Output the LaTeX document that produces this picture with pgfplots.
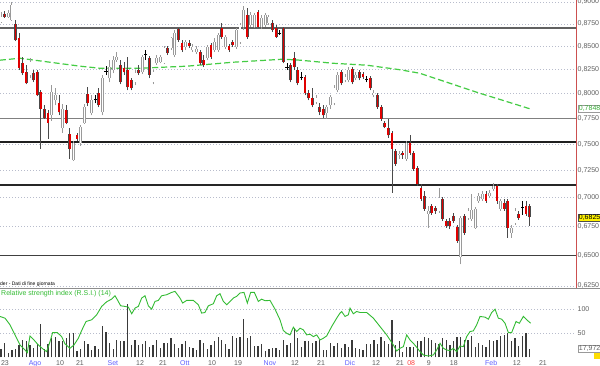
\documentclass[border=0pt]{standalone}
\usepackage{fontspec}
\setmainfont{Liberation Sans}
\usepackage{pgfplots}
\usepackage{pgfplotstable}
\pgfplotsset{compat=1.18}
\definecolor{upline}{HTML}{9A9A9A}
\definecolor{dnline}{HTML}{4A4A4A}
\definecolor{dnfill}{HTML}{E00000}
\definecolor{gridc}{HTML}{B8BCCC}
\definecolor{magreen}{HTML}{44CC44}
\definecolor{rsigreen}{HTML}{33BB33}
\definecolor{monthblue}{HTML}{6060FF}
\definecolor{yearred}{HTML}{FF4040}
\definecolor{lbl}{HTML}{606060}
\definecolor{volc}{HTML}{3A3A3A}
\definecolor{redborder}{HTML}{CC5050}

\pgfplotstableread{
x o h l c
0 .8771 .8885 .8760 .8828
2 .8828 .8908 .8817 .8874
3 .8794 .9000 .8783 .8965
8 .8192 .8373 .8160 .8330
14 .7781 .8087 .7730 .8014
15 .7932 .8056 .7881 .7984
17 .7651 .7891 .7612 .7851
20 .7352 .7534 .7342 .7505
22 .7505 .7681 .7485 .7661
23 .7710 .7891 .7700 .7861
25 .7801 .7984 .7781 .7932
28 .7811 .8192 .7781 .8160
30 .8160 .8352 .8118 .8277
31 .8245 .8395 .8213 .8352
32 .8352 .8438 .8330 .8384
37 .8118 .8245 .8087 .8213
39 .8224 .8406 .8203 .8384
42 .8118 .8245 .8097 .8224
43 .8319 .8406 .8298 .8373
44 .8330 .8406 .8319 .8384
45 .8319 .8504 .8309 .8482
47 .8482 .8603 .8460 .8592
48 .8406 .8681 .8384 .8648
51 .8493 .8570 .8460 .8548
53 .8460 .8526 .8438 .8493
54 .8438 .8504 .8417 .8471
57 .8373 .8515 .8352 .8493
59 .8460 .8592 .8438 .8548
60 .8460 .8648 .8438 .8626
62 .8493 .8626 .8471 .8603
65 .8493 .8704 .8471 .8681
66 .8548 .8760 .8526 .8737
67 .8715 .8954 .8681 .8908
69 .8737 .8885 .8715 .8851
70 .8715 .8874 .8704 .8851
72 .8715 .8851 .8692 .8817
73 .8737 .8874 .8715 .8851
74 .8760 .8851 .8737 .8828
87 .7912 .7984 .7891 .7953
90 .7801 .7881 .7750 .7861
91 .7881 .7984 .7851 .7963
92 .7902 .8087 .7881 .8056
93 .8035 .8224 .8014 .8192
95 .8139 .8203 .8118 .8171
96 .8139 .8277 .8118 .8245
98 .8160 .8224 .8139 .8192
103 .7984 .8035 .7963 .8004
110 .7390 .7437 .7361 .7409
112 .7361 .7534 .7342 .7514
118 .6858 .6929 .6735 .6884
121 .6884 .7091 .6867 .7000
127 .6488 .6840 .6425 .6822
129 .6822 .6911 .6805 .6884
130 .6814 .7037 .6796 .6893
131 .6735 .6920 .6727 .6902
132 .6973 .7046 .6955 .7019
133 .6991 .7064 .6973 .7037
135 .7019 .7073 .7000 .7046
136 .7082 .7137 .7064 .7110
138 .6902 .6991 .6884 .6973
141 .6692 .6761 .6649 .6735
142 .6779 .6911 .6761 .6884
}\updata

\pgfplotstableread{
x o h l c
1 .8862 .8896 .8817 .8828
4 .8749 .8794 .8559 .8570
5 .8592 .8648 .8245 .8266
6 .8319 .8384 .8192 .8213
7 .8224 .8298 .8097 .8108
9 .8213 .8245 .8118 .8139
10 .8224 .8245 .7974 .7984
11 .8014 .8035 .7456 .7851
12 .7841 .7881 .7750 .7760
13 .7801 .7831 .7553 .7710
16 .7902 .7984 .7781 .7811
18 .7831 .7881 .7691 .7710
19 .7602 .7651 .7361 .7456
21 .7583 .7612 .7534 .7553
24 .7994 .8066 .7871 .7902
27 .8004 .8056 .7861 .7881
33 .8298 .8352 .8097 .8118
34 .8266 .8330 .8192 .8224
35 .8245 .8384 .8035 .8066
36 .8139 .8160 .8035 .8056
38 .8245 .8298 .8192 .8213
41 .8373 .8395 .8160 .8192
46 .8482 .8504 .8406 .8427
49 .8692 .8704 .8548 .8570
50 .8537 .8570 .8438 .8460
52 .8537 .8570 .8482 .8504
55 .8438 .8460 .8298 .8319
56 .8352 .8406 .8277 .8298
58 .8515 .8537 .8363 .8384
61 .8704 .8760 .8581 .8603
63 .8504 .8526 .8438 .8460
64 .8548 .8570 .8493 .8515
68 .8851 .8931 .8581 .8603
71 .8885 .8908 .8704 .8715
75 .8760 .8794 .8659 .8681
76 .8704 .8737 .8592 .8603
78 .8704 .8715 .8319 .8330
80 .8298 .8319 .8118 .8139
81 .8373 .8438 .8245 .8277
82 .8245 .8277 .8087 .8108
84 .8171 .8192 .7984 .8004
85 .8004 .8035 .7932 .7953
86 .7953 .8056 .7861 .7881
88 .7861 .7902 .7781 .7811
89 .7851 .7881 .7760 .7781
94 .8224 .8245 .8087 .8108
97 .8256 .8277 .8097 .8118
99 .8224 .8245 .8139 .8160
100 .8203 .8224 .8150 .8171
102 .8160 .8181 .8035 .8056
104 .7984 .8004 .7851 .7861
105 .7861 .7881 .7730 .7750
106 .7710 .7730 .7651 .7661
107 .7651 .7750 .7563 .7583
108 .7612 .7631 .7046 .7456
109 .7437 .7456 .7295 .7314
111 .7418 .7437 .7361 .7390
113 .7505 .7583 .7399 .7418
114 .7418 .7437 .7248 .7267
115 .7276 .7295 .7110 .7128
116 .7091 .7128 .6973 .6991
117 .7019 .7064 .6884 .6902
119 .6929 .6947 .6849 .6867
120 .6911 .6929 .6858 .6884
122 .6991 .7009 .6796 .6814
123 .6796 .6814 .6735 .6752
124 .6796 .6822 .6727 .6752
125 .6840 .6867 .6779 .6796
126 .6744 .6761 .6606 .6623
128 .6840 .6858 .6675 .6692
134 .7037 .7064 .6955 .6973
137 .7110 .7128 .6947 .6973
139 .6955 .6991 .6884 .6902
140 .6973 .6991 .6649 .6735
143 .6858 .6884 .6805 .6822
145 .6929 .6973 .6840 .6858
146 .6929 .6947 .6752 .6825
}\dndata

\pgfplotstableread{
x p h l
26 .7943 .7984 .7902
29 .8234 .8288 .8192
40 .8417 .8460 .8352
77 .8648 .8681 .8626
79 .8277 .8319 .8245
83 .8171 .8224 .8139
101 .8150 .8181 .8118
144 .6911 .6973 .6849
}\dojidata

\pgfplotstableread{
x v
0 17
1 30
2 8
3 15
4 17
5 26
6 37
7 33
8 26
9 20
10 28
11 69
12 17
13 28
14 40
15 43
16 34
17 33
18 40
19 50
20 50
21 13
22 17
23 33
24 28
25 15
26 23
27 17
28 66
29 53
30 29
31 17
32 36
33 33
34 34
35 112
36 26
37 36
38 26
39 27
40 33
41 22
42 26
43 36
44 20
45 30
46 29
47 41
48 28
49 20
50 28
51 33
52 21
53 19
54 15
55 36
56 30
57 17
58 26
59 33
60 43
61 36
62 28
63 17
64 44
65 41
66 42
67 79
68 41
69 44
70 23
71 23
72 28
73 13
74 17
75 19
76 19
77 15
78 36
79 26
80 30
81 60
82 40
83 21
84 34
85 34
86 29
87 34
88 36
89 15
90 15
91 29
92 24
93 29
94 19
95 28
96 22
97 37
98 20
99 17
100 15
101 28
102 28
103 35
104 28
105 43
106 33
107 28
108 78
109 26
110 34
111 12
112 21
113 22
114 22
115 34
116 34
117 43
118 40
119 36
120 30
121 28
122 40
123 37
124 26
125 33
126 43
127 43
128 37
129 36
130 44
131 22
132 29
133 26
134 21
135 36
136 33
137 37
138 44
139 46
140 51
141 33
142 40
143 23
144 44
145 51
146 17.972
}\voldata

\pgfplotstableread{
x r
-0.28 59.8
1.11 57.3
2.49 47.5
3.87 32.8
5.25 18.1
6.63 10.7
7.27 6.8
8.01 31.3
8.93 26.4
10.31 18.1
11.69 11.7
12.61 8.3
13.54 23.0
14.27 36.2
15.56 36.2
16.76 30.3
17.68 19.6
19.06 13.2
20.17 18.1
21.36 27.9
22.28 39.2
23.48 52.4
25.05 54.9
26.43 62.2
27.81 74.5
29.19 81.3
30.57 85.2
31.49 90.1
32.14 84.3
33.06 75.4
34.25 74.5
35.18 73.5
36.10 63.7
37.02 72.0
37.94 74.5
38.86 86.7
39.78 90.1
40.70 75.4
41.62 70.5
42.54 81.8
43.46 83.3
44.38 90.1
45.76 91.6
47.15 95.0
48.07 96.5
49.45 86.7
50.19 79.4
51.29 83.3
53.13 83.3
54.52 76.9
55.43 64.7
56.35 65.6
57.28 75.4
58.66 78.4
59.58 90.1
60.50 93.1
61.42 81.8
62.34 76.9
63.26 81.8
64.18 86.7
65.10 89.2
66.02 94.1
67.13 95.0
68.05 79.4
68.97 95.0
69.98 95.0
71.09 81.8
72.01 85.2
72.93 82.8
74.31 83.3
75.69 70.5
77.07 54.9
77.99 39.2
78.91 35.2
79.83 32.8
80.76 44.1
81.68 37.7
82.60 42.6
83.52 40.1
84.44 32.8
85.36 33.8
86.28 30.3
87.20 32.8
88.12 25.4
89.05 27.9
89.97 31.3
91.35 45.0
92.73 57.3
93.65 64.7
94.11 67.1
95.03 59.8
95.95 62.2
96.41 72.0
97.33 63.7
98.25 67.1
99.17 65.6
101.02 65.6
102.86 57.3
104.70 45.0
106.54 32.8
108.38 18.1
109.30 9.3
110.22 13.2
111.15 15.6
112.07 32.8
112.99 25.4
113.91 20.5
114.83 14.7
115.75 8.3
116.67 3.4
118.05 1.9
119.43 3.4
120.35 10.7
121.27 20.5
122.19 13.2
123.12 10.7
124.04 9.8
124.96 13.2
125.88 8.3
126.80 16.6
127.72 15.6
128.64 30.3
129.56 37.7
130.48 38.7
131.40 47.5
132.32 59.8
133.71 58.8
134.63 55.8
135.55 65.6
136.47 70.5
137.39 57.3
138.31 55.8
139.23 49.9
140.15 36.2
141.07 36.2
142.27 52.4
143.19 49.9
144.29 59.8
145.22 54.9
146.32 49.9
}\rsidata

\pgfplotsset{
  wick/.style={draw=none, mark=none, forget plot,
    error bars/.cd, y dir=plus, y explicit, error mark=none,
    error bar style={draw=#1, line width=0.8pt}},
  body/.style 2 args={draw=none, mark=none, forget plot,
    error bars/.cd, y dir=plus, y explicit, error mark=none,
    error bar style={draw=#1, line width=#2}},
}

\begin{document}
\begin{tikzpicture}
\useasboundingbox (0pt,0pt) rectangle (600pt,366pt);
\fill[white] (0pt,0pt) rectangle (600pt,366pt);

\begin{axis}[
  name=main, at={(0pt,78pt)}, anchor=south west,
  scale only axis, width=576pt, height=288pt,
  xmin=-0.276, xmax=158.84,
  ymode=log, ymin=0.6234, ymax=0.9023,
  ytick={0.625,0.65,0.675,0.7,0.725,0.75,0.775,0.8,0.825,0.85,0.875,0.9},
  yticklabels={{0,6250},{0,6500},{0,6750},{0,7000},{0,7250},{0,7500},{0,7750},{0,8000},{0,8250},{0,8500},{0,8750},{0,9000}},
  yticklabel pos=right,
  yticklabel style={anchor=west, font=\fontsize{7}{8}\selectfont, text=lbl, inner sep=1.5pt},
  xtick=\empty,
  major tick length=0pt,
  axis line style={draw=none},
  ymajorgrids, grid style={gridc, dash pattern=on 1pt off 2pt, line width=0.6pt},
]
\addplot[line width=1.3pt, color=black!62] coordinates {(-1,0.8703) (160,0.8703)};
\addplot[line width=1.3pt, color=black!50] coordinates {(-1,0.7750) (160,0.7750)};
\addplot[line width=1.3pt, color=black!88] coordinates {(-1,0.7519) (160,0.7519)};
\addplot[line width=1.3pt, color=black!85] coordinates {(-1,0.7116) (160,0.7116)};
\addplot[line width=1.3pt, color=black!75] coordinates {(-1,0.6500) (160,0.6500)};

\addplot[magreen, line width=1.2pt, dash pattern=on 6pt off 3pt] coordinates {
(-0.28,.8352) (5.25,.8373) (13.5,.8330) (21.8,.8288) (27.3,.8266) (38.4,.8266)
(51.4,.8288) (64.1,.8330) (73.5,.8352) (77.9,.8363) (82.6,.8352) (91.7,.8319)
(101.1,.8298) (110.2,.8250) (115.7,.8213) (124,.8108) (132.3,.8004) (137.8,.7942) (146.1,.7848)};

% wicks
\addplot[wick=upline] table[x=x, y=l, y error expr=\thisrow{h}-\thisrow{l}] {\updata};
\addplot[wick=dnline] table[x=x, y=l, y error expr=\thisrow{h}-\thisrow{l}] {\dndata};
\addplot[wick=black] table[x=x, y=l, y error expr=\thisrow{h}-\thisrow{l}] {\dojidata};
% bodies
\addplot[body={upline}{2.8pt}] table[x=x, y=o, y error expr=\thisrow{c}-\thisrow{o}] {\updata};
\addplot[body={white}{1.3pt}] table[x=x, y=o, y error expr=\thisrow{c}-\thisrow{o}] {\updata};
\addplot[body={dnline}{2.8pt}] table[x=x, y=c, y error expr=\thisrow{o}-\thisrow{c}] {\dndata};
\addplot[body={dnfill}{1.7pt}] table[x=x, y=c, y error expr=\thisrow{o}-\thisrow{c}] {\dndata};
\addplot[only marks, mark=-, mark size=1.6pt, black, line width=0.9pt, forget plot] table[x=x, y=p] {\dojidata};
\end{axis}
\draw[redborder, line width=1pt] (576pt,78pt) -- (576pt,366pt);

\begin{axis}[
  name=vol, at={(0pt,8.7pt)}, anchor=south west,
  scale only axis, width=576pt, height=68.3pt,
  xmin=-0.276, xmax=158.84, ymin=0, ymax=142.3,
  ytick={50,100}, yticklabels={50,100},
  yticklabel pos=right,
  yticklabel style={anchor=west, font=\fontsize{7}{8}\selectfont, text=lbl, inner sep=1.5pt},
  xtick={1.1,9.39,16.3,21.8,30.9,38.4,44.75,50.8,58.3,65.5,74.3,81.2,88.4,96.4,103.6,110.2,113.3,118.2,125.1,135.4,142.5,149.7},
  xticklabels={23,\textcolor{monthblue}{Ago},10,21,\textcolor{monthblue}{Set},12,21,\textcolor{monthblue}{Ott},10,19,\textcolor{monthblue}{Nov},12,21,\textcolor{monthblue}{Dic},12,21,\textcolor{yearred}{08},9,18,\textcolor{monthblue}{Feb},12,21},
  xticklabel style={font=\fontsize{7}{8}\selectfont, text=lbl},
  major tick length=0pt,
  axis line style={draw=none},
  ymajorgrids, grid style={gridc, dash pattern=on 1pt off 2pt, line width=0.6pt},
]
\addplot[ycomb, volc, line width=1.3pt] table[x=x, y=v] {\voldata};
\end{axis}

\begin{axis}[
  at={(0pt,8.7pt)}, anchor=south west,
  scale only axis, width=576pt, height=68.3pt,
  xmin=-0.276, xmax=158.84, ymin=0, ymax=100,
  hide axis,
]
\addplot[rsigreen, line width=0.9pt] table[x=x, y=r] {\rsidata};
\end{axis}

\draw[black!45, line width=1pt] (0pt,77.2pt) -- (600pt,77.2pt);
\node[anchor=west, font=\fontsize{5}{6}\selectfont, inner sep=0pt] at (0pt,82pt) {der - Dati di fine giornata};
\node[anchor=west, text=rsigreen, font=\fontsize{7}{8}\selectfont, inner sep=0pt] at (1pt,72pt) {Relative strength index (R.S.I.) (14)};
\node[anchor=west, draw=black!40, fill=white, text=magreen!85!black, font=\fontsize{7}{8}\selectfont, inner sep=0.7pt] at (578pt,257.6pt) {0,7848};
\node[anchor=west, draw=black!70, fill=yellow, text=black, font=\fontsize{7}{8}\selectfont, inner sep=0.7pt] at (578pt,148.5pt) {0,6825};
\node[anchor=west, draw=black!40, fill=white, text=lbl, font=\fontsize{7}{8}\selectfont, inner sep=0.7pt] at (578pt,17.5pt) {17,972};
\fill[yellow!80!orange] (594pt,7pt) rectangle (600pt,12.5pt);
\end{tikzpicture}
\end{document}
